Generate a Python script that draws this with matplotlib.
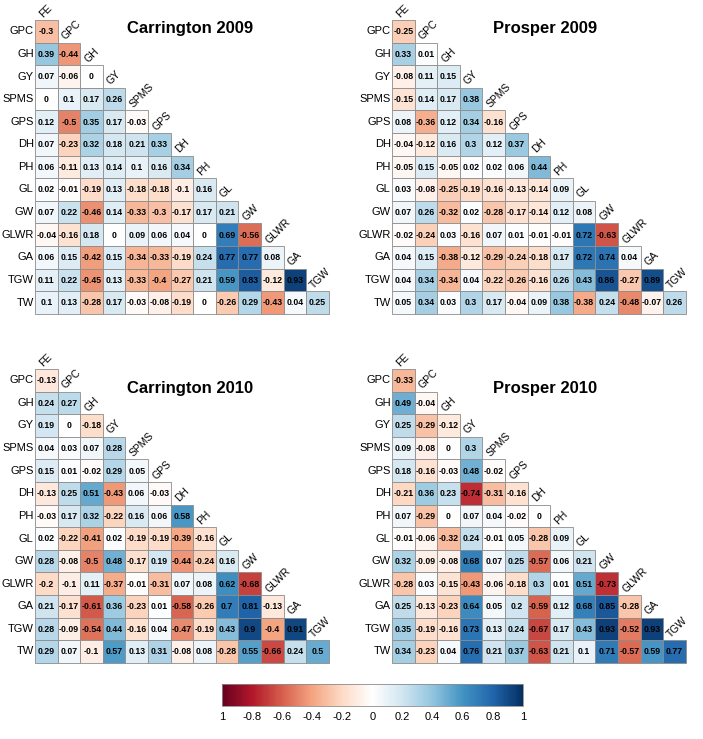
import numpy as np
import matplotlib
matplotlib.use("Agg")
import matplotlib.pyplot as plt
from matplotlib.colors import LinearSegmentedColormap, Normalize
from matplotlib.patches import Rectangle
from matplotlib.cm import ScalarMappable

plt.rcParams['font.family'] = ['Liberation Sans', 'DejaVu Sans']

# variable names (columns FE..TGW, rows GPC..TW)
traits = ['FE', 'GPC', 'GH', 'GY', 'SPMS', 'GPS', 'DH', 'PH', 'GL', 'GW',
          'GLWR', 'GA', 'TGW', 'TW']

# lower triangle correlations, one list per row (GPC..TW)
carrington_2009 = [
    [-0.3],
    [0.39, -0.44],
    [0.07, -0.06, 0],
    [0, 0.1, 0.17, 0.26],
    [0.12, -0.5, 0.35, 0.17, -0.03],
    [0.07, -0.23, 0.32, 0.18, 0.21, 0.33],
    [0.06, -0.11, 0.13, 0.14, 0.1, 0.16, 0.34],
    [0.02, -0.01, -0.19, 0.13, -0.18, -0.18, -0.1, 0.16],
    [0.07, 0.22, -0.46, 0.14, -0.33, -0.3, -0.17, 0.17, 0.21],
    [-0.04, -0.16, 0.18, 0, 0.09, 0.06, 0.04, 0, 0.69, -0.56],
    [0.06, 0.15, -0.42, 0.15, -0.34, -0.33, -0.19, 0.24, 0.77, 0.77, 0.08],
    [0.11, 0.22, -0.45, 0.13, -0.33, -0.4, -0.27, 0.21, 0.59, 0.83, -0.12, 0.93],
    [0.1, 0.13, -0.28, 0.17, -0.03, -0.08, -0.19, 0, -0.26, 0.29, -0.43, 0.04, 0.25],
]

prosper_2009 = [
    [-0.25],
    [0.33, 0.01],
    [-0.08, 0.11, 0.15],
    [-0.15, 0.14, 0.17, 0.38],
    [0.08, -0.36, 0.12, 0.34, -0.16],
    [-0.04, -0.12, 0.16, 0.3, 0.12, 0.37],
    [-0.05, 0.15, -0.05, 0.02, 0.02, 0.06, 0.44],
    [0.03, -0.08, -0.25, -0.19, -0.16, -0.13, -0.14, 0.09],
    [0.07, 0.26, -0.32, 0.02, -0.28, -0.17, -0.14, 0.12, 0.08],
    [-0.02, -0.24, 0.03, -0.16, 0.07, 0.01, -0.01, -0.01, 0.72, -0.63],
    [0.04, 0.15, -0.38, -0.12, -0.29, -0.24, -0.18, 0.17, 0.72, 0.74, 0.04],
    [0.04, 0.34, -0.34, 0.04, -0.22, -0.26, -0.16, 0.26, 0.43, 0.86, -0.27, 0.89],
    [0.05, 0.34, 0.03, 0.3, 0.17, -0.04, 0.09, 0.38, -0.38, 0.24, -0.48, -0.07, 0.26],
]

carrington_2010 = [
    [-0.13],
    [0.24, 0.27],
    [0.19, 0, -0.18],
    [0.04, 0.03, 0.07, 0.28],
    [0.15, 0.01, -0.02, 0.29, 0.05],
    [-0.13, 0.25, 0.51, -0.43, 0.06, -0.03],
    [-0.03, 0.17, 0.32, -0.22, 0.16, 0.06, 0.58],
    [0.02, -0.22, -0.41, 0.02, -0.19, -0.19, -0.39, -0.16],
    [0.28, -0.08, -0.5, 0.48, -0.17, 0.19, -0.44, -0.24, 0.16],
    [-0.2, -0.1, 0.11, -0.37, -0.01, -0.31, 0.07, 0.08, 0.62, -0.68],
    [0.21, -0.17, -0.61, 0.36, -0.23, 0.01, -0.58, -0.26, 0.7, 0.81, -0.13],
    [0.28, -0.09, -0.54, 0.44, -0.16, 0.04, -0.47, -0.19, 0.43, 0.9, -0.4, 0.91],
    [0.29, 0.07, -0.1, 0.57, 0.13, 0.31, -0.08, 0.08, -0.28, 0.55, -0.66, 0.24, 0.5],
]

prosper_2010 = [
    [-0.33],
    [0.49, -0.04],
    [0.25, -0.29, -0.12],
    [0.09, -0.08, 0, 0.3],
    [0.18, -0.16, -0.03, 0.48, -0.02],
    [-0.21, 0.36, 0.23, -0.74, -0.31, -0.16],
    [0.07, -0.29, 0, 0.07, 0.04, -0.02, 0],
    [-0.01, -0.06, -0.32, 0.24, -0.01, 0.05, -0.28, 0.09],
    [0.32, -0.09, -0.08, 0.68, 0.07, 0.25, -0.57, 0.06, 0.21],
    [-0.28, 0.03, -0.15, -0.43, -0.06, -0.18, 0.3, 0.01, 0.51, -0.73],
    [0.25, -0.13, -0.23, 0.64, 0.05, 0.2, -0.59, 0.12, 0.68, 0.85, -0.28],
    [0.35, -0.19, -0.16, 0.73, 0.13, 0.24, -0.67, 0.17, 0.43, 0.93, -0.52, 0.93],
    [0.34, -0.23, 0.04, 0.76, 0.21, 0.37, -0.63, 0.21, 0.1, 0.71, -0.57, 0.59, 0.77],
]

titles = ['Carrington 2009', 'Prosper 2009', 'Carrington 2010', 'Prosper 2010']
cbar_ticks = [-1, -0.8, -0.6, -0.4, -0.2, 0, 0.2, 0.4, 0.6, 0.8, 1]
cbar_labels = ['1', '-0.8', '-0.6', '-0.4', '-0.2', '0', '0.2', '0.4', '0.6', '0.8', '1']

# corrplot-like red-white-blue palette
cmap = LinearSegmentedColormap.from_list('corr', [
    '#67001F', '#B2182B', '#D6604D', '#F4A582', '#FDDBC7', '#FFFFFF',
    '#D1E5F0', '#92C5DE', '#4393C3', '#2166AC', '#053061'])
norm = Normalize(-1, 1)

W, H = 703, 739
fig = plt.figure(figsize=(W / 100, H / 100), dpi=100)

cell = 22.6
n = len(traits) - 1
# (left px, top px) of each cell grid, title centre
panels = [
    (carrington_2009, (35, 20), (190, 28)),
    (prosper_2009, (392, 20), (545, 28)),
    (carrington_2010, (35, 369), (190, 389)),
    (prosper_2010, (392, 369), (545, 389)),
]


def draw_panel(data, origin, title_pos, title):
    left, top = origin
    ax = fig.add_axes([left / W, 1 - (top + n * cell) / H, n * cell / W, n * cell / H])
    ax.set_xlim(0, n)
    ax.set_ylim(n, 0)
    ax.axis('off')
    for i, row in enumerate(data):
        for j, v in enumerate(row):
            ax.add_patch(Rectangle((j, i), 1, 1, facecolor=cmap(norm(v)),
                                   edgecolor='#8c8c8c', lw=0.6, clip_on=False))
            ax.text(j + 0.5, i + 0.52, '{:g}'.format(v), ha='center', va='center',
                    fontsize=6.3, fontweight='bold', color='black')
        ax.text(-0.06, i + 0.5, traits[i + 1], ha='right', va='center', fontsize=8)
        # diagonal label above the first cell of the column
        ax.text(i + 0.42, i - 0.04, traits[i], ha='left', va='bottom', rotation=45,
                rotation_mode='anchor', fontsize=7.5)
    fig.text(title_pos[0] / W, 1 - title_pos[1] / H, title, ha='center', va='center',
             fontsize=12, fontweight='bold')


for (data, origin, tpos), title in zip(panels, titles):
    draw_panel(data, origin, tpos, title)

# colour legend
cax = fig.add_axes([222 / W, 1 - 706 / H, 301 / W, 22 / H])
cb = fig.colorbar(ScalarMappable(norm=norm, cmap=cmap), cax=cax, orientation='horizontal')
cb.set_ticks(cbar_ticks)
cb.set_ticklabels(cbar_labels)
cb.ax.tick_params(labelsize=8, length=0, pad=4)
cb.outline.set_linewidth(0.6)
cb.outline.set_edgecolor('#8c8c8c')

fig.savefig('out.png', dpi=100)
